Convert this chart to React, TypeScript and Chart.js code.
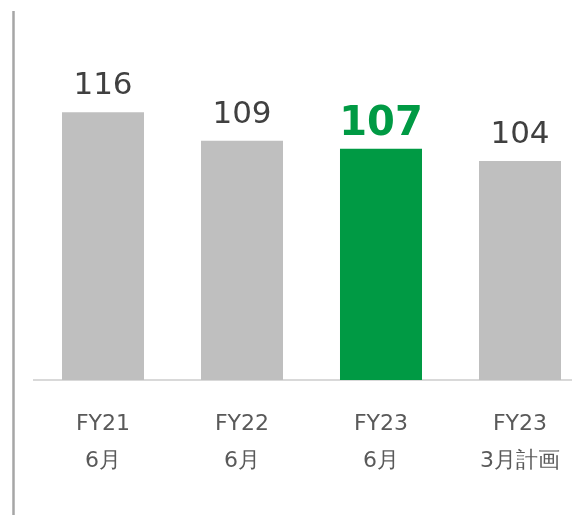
import React, { useEffect, useRef } from "react";
import { Chart, registerables } from "chart.js";

Chart.register(...registerables);

const categories: string[][] = [
  ["FY21", "6月"],
  ["FY22", "6月"],
  ["FY23", "6月"],
  ["FY23", "3月計画"],
];
const values: number[] = [116, 109, 107, 104];
const highlight: boolean[] = [false, false, true, false];

const GRAY = "#BFBFBF";
const GREEN = "#009A44";

const decorPlugin = {
  id: "decor",
  beforeDraw(chart: any) {
    const ctx = chart.ctx;
    ctx.save();
    ctx.strokeStyle = "#A6A6A6";
    ctx.lineWidth = 2.5;
    ctx.beginPath();
    ctx.moveTo(13.5, 11);
    ctx.lineTo(13.5, chart.height);
    ctx.stroke();
    ctx.restore();
  },
  afterDatasetsDraw(chart: any) {
    const ctx = chart.ctx;
    const meta = chart.getDatasetMeta(0);
    ctx.save();
    ctx.textAlign = "center";
    ctx.textBaseline = "alphabetic";
    meta.data.forEach((bar: any, i: number) => {
      const hl = highlight[i];
      ctx.fillStyle = hl ? GREEN : "#404040";
      ctx.font = hl
        ? "bold 40px 'DejaVu Sans', sans-serif"
        : "31px 'DejaVu Sans', sans-serif";
      ctx.fillText(String(values[i]), bar.x, bar.y - (hl ? 14 : 18));
    });
    ctx.restore();
  },
};

export default function App() {
  const ref = useRef<HTMLCanvasElement | null>(null);
  useEffect(() => {
    if (!ref.current) return;
    const chart = new Chart(ref.current, {
      type: "bar",
      data: {
        labels: categories,
        datasets: [
          {
            data: values,
            backgroundColor: highlight.map((h) => (h ? GREEN : GRAY)),
            borderWidth: 0,
            barPercentage: 0.59,
            categoryPercentage: 1,
          },
        ],
      },
      options: {
        animation: false,
        responsive: false,
        maintainAspectRatio: false,
        devicePixelRatio: 1,
        layout: { padding: { left: 33.5, right: 10.5, top: 15, bottom: 0 } },
        plugins: {
          legend: { display: false },
          tooltip: { enabled: false },
        },
        scales: {
          y: {
            display: false,
            min: 50,
            max: 140,
          },
          x: {
            grid: { display: false, drawTicks: false },
            border: { display: true, color: "#D9D9D9", width: 2 },
            ticks: {
              color: "#595959",
              padding: 26,
              maxRotation: 0,
              autoSkip: false,
              font: { family: "'DejaVu Sans', sans-serif", size: 22, lineHeight: "37px" },
            },
            afterFit: (s: any) => {
              s.height = 135;
            },
          },
        },
      },
      plugins: [decorPlugin],
    });
    return () => chart.destroy();
  }, []);
  return (
    <div
      style={{
        position: "fixed",
        left: 0,
        top: 0,
        width: 572,
        height: 515,
        overflow: "hidden",
        background: "#fff",
      }}
    >
      <canvas ref={ref} width={600} height={515} style={{ width: 600, height: 515, display: "block" }} />
    </div>
  );
}
